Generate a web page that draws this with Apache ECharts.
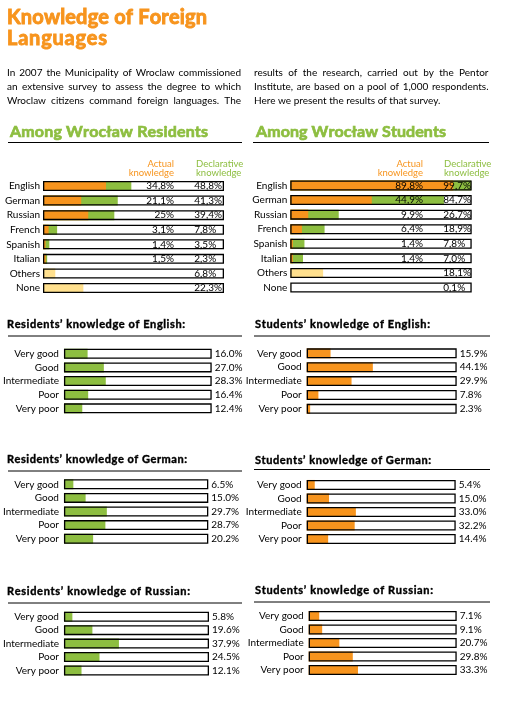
<!DOCTYPE html>
<html>
<head>
<meta charset="utf-8">
<script src="https://cdn.jsdelivr.net/npm/echarts@6/dist/echarts.min.js"></script>
<style>
html,body{margin:0;padding:0;background:#fff;}
#chart{width:509px;height:702px;}
</style>
</head>
<body>
<div id="chart"></div>
<script>
// ---------- DATA ----------
const langCats = ['English', 'German', 'Russian', 'French', 'Spanish', 'Italian', 'Others', 'None'];
const otherCats = ['Others', 'None'];

const resActual = [34.8, 21.1, 25, 3.1, 1.4, 1.5, null, null];
const resActualText = ['34,8%', '21,1%', '25%', '3,1%', '1,4%', '1,5%', '', ''];
const resDecl = [48.8, 41.3, 39.4, 7.8, 3.5, 2.3, 6.8, 22.3];
const resDeclText = ['48,8%', '41,3%', '39,4%', '7,8%', '3,5%', '2,3%', '6,8%', '22,3%'];

const stuActual = [89.8, 44.9, 9.9, 6.4, 1.4, 1.4, null, null];
const stuActualText = ['89,8%', '44,9%', '9,9%', '6,4%', '1,4%', '1,4%', '', ''];
const stuDecl = [99.7, 84.7, 26.7, 18.9, 7.8, 7.0, 18.1, 0.1];
const stuDeclText = ['99,7%', '84,7%', '26,7%', '18,9%', '7,8%', '7,0%', '18,1%', '0,1%'];

const levels = ['Very good', 'Good', 'Intermediate', 'Poor', 'Very poor'];
const resEnglish = [16.0, 27.0, 28.3, 16.4, 12.4];
const stuEnglish = [15.9, 44.1, 29.9, 7.8, 2.3];
const resGerman = [6.5, 15.0, 29.7, 28.7, 20.2];
const stuGerman = [5.4, 15.0, 33.0, 32.2, 14.4];
const resRussian = [5.8, 19.6, 37.9, 24.5, 12.1];
const stuRussian = [7.1, 9.1, 20.7, 29.8, 33.3];

const titleLines = ['Knowledge of Foreign', 'Languages'];
const bodyLeft = ['In 2007 the Municipality of Wroclaw commissioned',
  'an extensive survey to assess the degree to which',
  'Wroclaw citizens command foreign languages. The'];
const bodyRight = ['results of the research, carried out by the Pentor',
  'Institute, are based on a pool of 1,000 respondents.',
  'Here we present the results of that survey.'];

// ---------- STYLE ----------
const ORANGE = '#F7941D';
const GREEN = '#8DBE40';
const YELLOW = '#FFE08E';
const FONT = 'Lato, "Open Sans", sans-serif';
const HFONT = 'Lato, "DejaVu Sans", sans-serif';

const chart = echarts.init(document.getElementById('chart'), null, {renderer: 'canvas'});

// ---------- LAYOUT ----------
const topGrids = [
  {left: 43, top: 178.7, width: 181, height: 116.6},
  {left: 290.3, top: 178.2, width: 181.4, height: 116.6}
];
const botGrids = [
  {left: 62, top: 346.9, width: 149.7, height: 68.3},
  {left: 306.7, top: 346.4, width: 150, height: 69.4},
  {left: 60.3, top: 477.5, width: 148, height: 68},
  {left: 306.7, top: 478.2, width: 149, height: 67.5},
  {left: 60.3, top: 610, width: 148.7, height: 67.2},
  {left: 308.7, top: 609.2, width: 148, height: 67.5}
];

const grids = [], xAxes = [], yAxes = [], series = [];

function addAxes(g, cats, gi, margin) {
  grids.push(Object.assign({containLabel: false}, g));
  xAxes.push({type: 'value', gridIndex: gi, min: 0, max: 100, show: false});
  yAxes.push({type: 'category', gridIndex: gi, data: cats, inverse: true,
    axisLine: {show: false}, axisTick: {show: false}, splitLine: {show: false},
    axisLabel: {color: '#000', fontSize: 10, fontFamily: FONT, margin: margin}});
}

function topChart(gi, actual, actualText, decl, declText, actDist, declDist) {
  addAxes(topGrids[gi], langCats, gi, 3);
  const common = {type: 'bar', xAxisIndex: gi, yAxisIndex: gi, barWidth: 10, barGap: '-100%', silent: true, animation: false};
  series.push(Object.assign({}, common, {
    name: 'Declarative knowledge',
    data: decl.map((v, i) => ({value: v, itemStyle: {color: otherCats.includes(langCats[i]) ? YELLOW : GREEN}})),
    showBackground: true, backgroundStyle: {color: '#fff'}
  }));
  series.push(Object.assign({}, common, {
    name: 'Actual knowledge', data: actual, itemStyle: {color: ORANGE}
  }));
  series.push(Object.assign({}, common, {
    name: 'box', data: langCats.map(() => 100),
    itemStyle: {color: 'rgba(0,0,0,0)', borderColor: '#000', borderWidth: 1.3},
    label: {show: true, position: 'insideRight', distance: actDist, color: '#000', fontSize: 10, fontFamily: FONT,
      formatter: p => actualText[p.dataIndex]}
  }));
  series.push(Object.assign({}, common, {
    name: 'box2', data: langCats.map(() => 100),
    itemStyle: {color: 'rgba(0,0,0,0)'},
    label: {show: true, position: 'insideRight', distance: declDist, align: 'left', color: '#000', fontSize: 10, fontFamily: FONT,
      formatter: p => declText[p.dataIndex]}
  }));
}

function botChart(gi, values, color) {
  const idx = gi + 2;
  addAxes(botGrids[gi], levels, idx, 5);
  const common = {type: 'bar', xAxisIndex: idx, yAxisIndex: idx, barWidth: 10, barGap: '-100%', silent: true, animation: false};
  series.push(Object.assign({}, common, {
    data: values, itemStyle: {color: color}, showBackground: true, backgroundStyle: {color: '#fff'}
  }));
  series.push(Object.assign({}, common, {
    data: levels.map(() => 100),
    itemStyle: {color: 'rgba(0,0,0,0)', borderColor: '#000', borderWidth: 1.3},
    label: {show: true, position: 'right', distance: 3, color: '#000', fontSize: 10, fontFamily: FONT,
      formatter: p => values[p.dataIndex].toFixed(1) + '%'}
  }));
}

topChart(0, resActual, resActualText, resDecl, resDeclText, 50, 29.7);
topChart(1, stuActual, stuActualText, stuDecl, stuDeclText, 48.7, 28.4);
botChart(0, resEnglish, GREEN);
botChart(1, stuEnglish, ORANGE);
botChart(2, resGerman, GREEN);
botChart(3, stuGerman, ORANGE);
botChart(4, resRussian, GREEN);
botChart(5, stuRussian, ORANGE);

// ---------- GRAPHICS (texts & rules) ----------
const graphic = [];
function txt(text, x, y, font, fill, align, strokeW) {
  const st = {text: text, x: x, y: y, font: font, fill: fill || '#000',
    textAlign: align || 'left', textVerticalAlign: 'middle'};
  if (strokeW) { st.stroke = fill || '#000'; st.lineWidth = strokeW; }
  graphic.push({type: 'text', silent: true, style: st});
}
function rule(x1, x2, y) {
  graphic.push({type: 'line', silent: true, shape: {x1: x1, y1: y, x2: x2, y2: y}, style: {stroke: '#000', lineWidth: 1}});
}
const mctx = document.createElement('canvas').getContext('2d');
function justify(line, x0, w, y, font) {
  mctx.font = font;
  const words = line.split(' ');
  const widths = words.map(s => mctx.measureText(s).width);
  const total = widths.reduce((a, b) => a + b, 0);
  const gap = (w - total) / (words.length - 1);
  let x = x0;
  words.forEach((s, i) => { txt(s, x, y, font); x += widths[i] + gap; });
}
// spread letters of a heading to reach a target width (reference type is wide-set)
function spaced(text, x0, w, y, font, fill, strokeW) {
  mctx.font = font;
  const chars = Array.from(text);
  const widths = chars.map(c => mctx.measureText(c).width);
  const total = widths.reduce((a, b) => a + b, 0);
  const gap = Math.max(0, (w - total) / (chars.length - 1));
  let x = x0;
  chars.forEach((c, i) => { if (c !== ' ') txt(c, x, y, font, fill, 'left', strokeW); x += widths[i] + gap; });
}

// main title
const TF = 'bold 20px ' + HFONT;
spaced(titleLines[0], 7, 200, 18, TF, ORANGE, 0.9);
spaced(titleLines[1], 7, 100, 39, TF, ORANGE, 0.9);

// body text
const BODY = '10px ' + FONT;
const bodyY = [73, 87, 101];
bodyLeft.forEach((l, i) => justify(l, 7, 234, bodyY[i], BODY));
bodyRight.forEach((l, i) => {
  if (i < bodyRight.length - 1) justify(l, 254, 234.5, bodyY[i], BODY);
  else txt(l, 254, bodyY[i], BODY);
});

// section headers
const SH = 'bold 16px ' + HFONT;
spaced('Among Wrocław Residents', 10, 198, 132, SH, GREEN, 0.7);
rule(8, 242, 142.5);
spaced('Among Wrocław Students', 256, 190, 132, SH, GREEN, 0.7);
rule(253, 489, 142.5);

// column headers
const CH = '9.5px ' + FONT;
txt('Actual', 174, 163.5, CH, ORANGE, 'right');
txt('knowledge', 174, 172.5, CH, ORANGE, 'right');
txt('Declarative', 196, 163.5, CH, GREEN);
txt('knowledge', 196, 172.5, CH, GREEN);
txt('Actual', 423, 163.5, CH, ORANGE, 'right');
txt('knowledge', 423, 172.5, CH, ORANGE, 'right');
txt('Declarative', 444, 163.5, CH, GREEN);
txt('knowledge', 444, 172.5, CH, GREEN);

// sub-chart titles
const ST = 'bold 11px ' + HFONT;
const subTitles = [
  ['Residents\u2019 knowledge of English:', 7, 178, 324, 8, 242, 336],
  ['Students\u2019 knowledge of English:', 255, 175, 324, 254, 490, 336],
  ['Residents\u2019 knowledge of German:', 7, 180, 459.5, 8, 242, 471],
  ['Students\u2019 knowledge of German:', 255, 176, 460, 254, 490, 469.5],
  ['Residents\u2019 knowledge of Russian:', 7, 183, 591, 8, 242, 603],
  ['Students\u2019 knowledge of Russian:', 255, 178, 590, 254, 490, 602]
];
subTitles.forEach(s => { spaced(s[0], s[1], s[2], s[3], ST, '#000', 0.4); rule(s[4], s[5], s[6]); });

chart.setOption({
  animation: false,
  backgroundColor: '#fff',
  grid: grids,
  xAxis: xAxes,
  yAxis: yAxes,
  series: series,
  graphic: graphic
});
</script>
</body>
</html>
